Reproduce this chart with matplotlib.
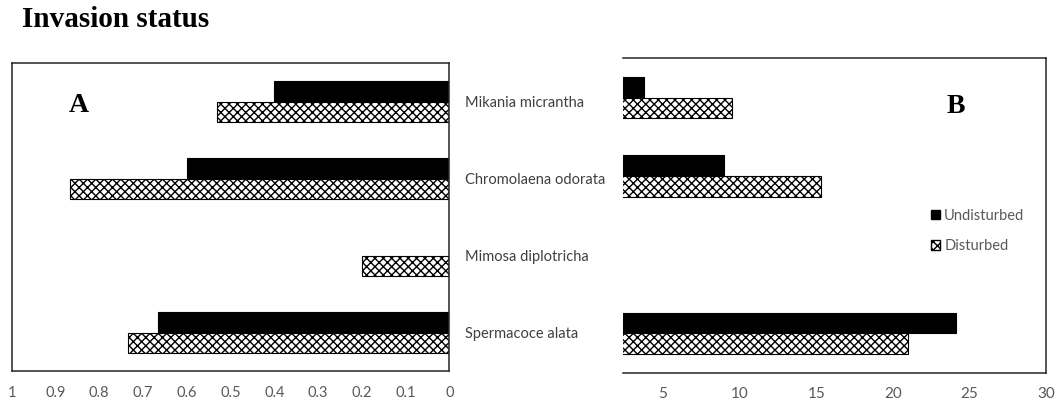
import numpy as np
import matplotlib
matplotlib.use("Agg")
import matplotlib.pyplot as plt
from matplotlib.patches import Patch

# data
species = ["Mikania micrantha", "Chromolaena odorata", "Mimosa diplotricha", "Spermacoce alata"]
a_undisturbed = [0.40, 0.60, 0.0, 0.665]
a_disturbed = [0.53, 0.867, 0.20, 0.734]
b_undisturbed = [3.78, 9.0, 0.0, 24.15]
b_disturbed = [9.48, 15.33, 0.0, 21.0]
a_ticks = [1, 0.9, 0.8, 0.7, 0.6, 0.5, 0.4, 0.3, 0.2, 0.1, 0]
b_ticks = [5, 10, 15, 20, 25, 30]

plt.rcParams['font.family'] = ['Lato', 'DejaVu Sans']
W, H = 1059, 401
fig = plt.figure(figsize=(W / 100, H / 100), dpi=100)

grey = "#595959"
frame = "#262626"
bh = 0.265
y = np.arange(len(species))
fs = 10.5

def fpos(x0, x1, y0, y1):
    return [x0 / W, 1 - y1 / H, (x1 - x0) / W, (y1 - y0) / H]

# panel A
ax1 = fig.add_axes(fpos(11.7, 449.3, 63.3, 371))
ax1.barh(y - bh / 2, a_undisturbed, height=bh, color="black", edgecolor="black", lw=0.8)
ax1.barh(y + bh / 2, a_disturbed, height=bh, color="white", edgecolor="black", hatch="xxxx", lw=0.8)
ax1.set_xlim(1, 0)
ax1.set_ylim(3.5, -0.5)
ax1.set_xticks(a_ticks)
ax1.set_xticklabels([f"{v:g}" for v in a_ticks])
ax1.yaxis.tick_right()
ax1.set_yticks(y)
ax1.set_yticklabels(species)
ax1.tick_params(axis="x", length=0, pad=11, labelsize=fs, labelcolor=grey)
ax1.tick_params(axis="y", length=0, pad=11.5, labelsize=fs, labelcolor="#404040")
for s in ax1.spines.values():
    s.set_color(frame)
    s.set_linewidth(1.1)

# panel B
ax2 = fig.add_axes(fpos(623.3, 1046, 58.3, 372.7))
ax2.barh(y - bh / 2, b_undisturbed, height=bh, color="black", edgecolor="black", lw=0.8)
ax2.barh(y + bh / 2, b_disturbed, height=bh, color="white", edgecolor="black", hatch="xxxx", lw=0.8)
ax2.set_xlim(2.41, 30)
ax2.set_ylim(3.5, -0.5)
ax2.set_xticks(b_ticks)
ax2.set_yticks([])
ax2.tick_params(axis="x", length=0, pad=10, labelsize=fs + 0.5, labelcolor=grey)
ax2.spines["left"].set_visible(False)
for k in ["top", "right", "bottom"]:
    ax2.spines[k].set_color(frame)
    ax2.spines[k].set_linewidth(1.1)

handles = [Patch(facecolor="black", edgecolor="black", label="Undisturbed"),
           Patch(facecolor="white", edgecolor="black", hatch="xxxx", label="Disturbed")]
leg = ax2.legend(handles=handles, loc="upper left", bbox_to_anchor=(931 / W, 1 - 209 / H),
                 bbox_transform=fig.transFigure, frameon=False, fontsize=fs,
                 handlelength=0.6, handleheight=0.6, handletextpad=0.3, labelspacing=1.1,
                 borderpad=0, borderaxespad=0)
for t in leg.get_texts():
    t.set_color(grey)

fig.text(22 / W, 1 - 27.3 / H, "Invasion status", family="Liberation Serif",
         weight="bold", fontsize=21, va="baseline", ha="left")
fig.text(79 / W, 1 - 112 / H, "A", family="Liberation Serif", weight="bold",
         fontsize=20, va="baseline", ha="center")
fig.text(956 / W, 1 - 113 / H, "B", family="Liberation Serif", weight="bold",
         fontsize=20, va="baseline", ha="center")

fig.savefig("out.png", dpi=100)
